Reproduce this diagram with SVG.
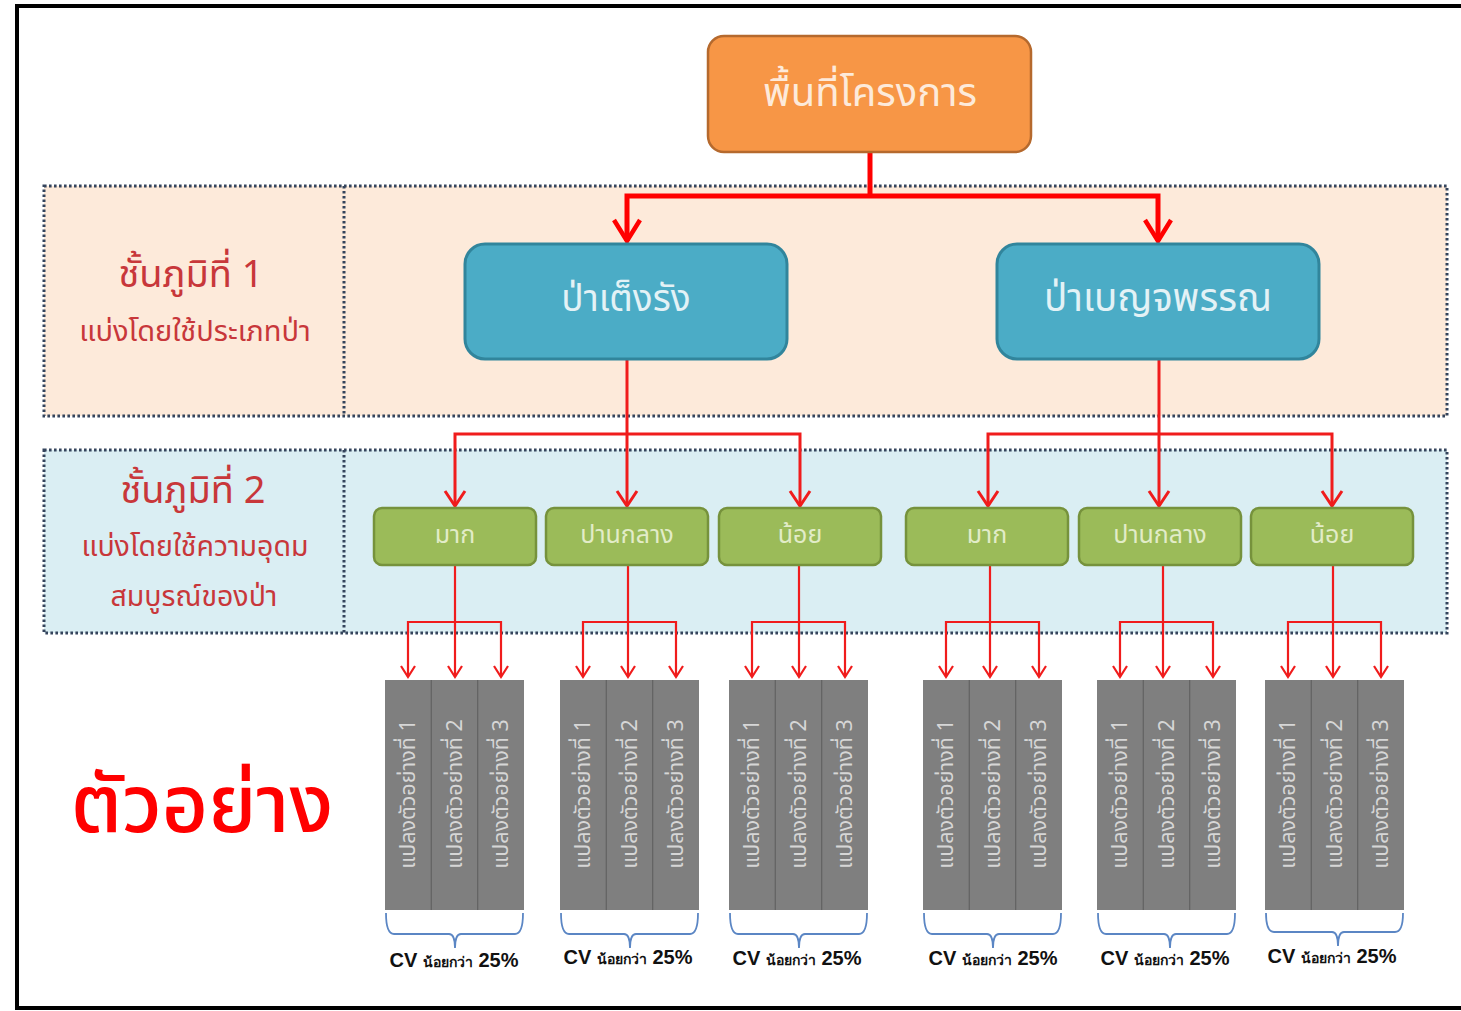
<svg xmlns="http://www.w3.org/2000/svg" width="1461" height="1011" viewBox="0 0 1461 1011">
<defs>
<style>
.th{font-family:"Noto Sans","Noto Sans Thai","Liberation Sans",sans-serif}
.band{stroke:#34445c;stroke-width:3;stroke-dasharray:2.6 2.4}
.div{stroke:#34445c;stroke-width:3;stroke-dasharray:2.6 2.4;fill:none}
.tier{fill:#c8373a;text-anchor:middle}
.orange{fill:#f79646;stroke:#b5692d;stroke-width:2.5}
.blue{fill:#4bacc6;stroke:#31859c;stroke-width:3}
.green{fill:#9bbb59;stroke:#76923c;stroke-width:2.5}
.bar{fill:#7f7f7f}
.bdiv{stroke:#626262;stroke-width:1.2}
.btxt{fill:#d6d6d6;font-size:21.5px;text-anchor:middle}
.c1{stroke:#ff0000;stroke-width:5;fill:none}
.c2{stroke:#f01c1c;stroke-width:3;fill:none}
.c3{stroke:#f01c1c;stroke-width:2.2;fill:none}
.brace{stroke:#5b86c4;stroke-width:1.8;fill:none}
.cv{font-family:"Liberation Sans","Noto Sans",sans-serif;font-weight:bold;font-size:20px;fill:#111;text-anchor:middle}
.cvs{font-size:14px}
</style>
<marker id="a1" viewBox="0 0 30 28" markerWidth="30" markerHeight="28" refX="25" refY="14" orient="auto-start-reverse" markerUnits="userSpaceOnUse" overflow="visible">
<path d="M4,1 L25,14 L4,27" fill="none" stroke="#ff0000" stroke-width="4.5"/>
</marker>
<marker id="a2" viewBox="0 0 22 22" markerWidth="22" markerHeight="22" refX="18" refY="11" orient="auto-start-reverse" markerUnits="userSpaceOnUse" overflow="visible">
<path d="M3,1 L18,11 L3,21" fill="none" stroke="#f01c1c" stroke-width="3"/>
</marker>
<marker id="a3" viewBox="0 0 16 16" markerWidth="16" markerHeight="16" refX="13" refY="8" orient="auto-start-reverse" markerUnits="userSpaceOnUse" overflow="visible">
<path d="M2,1 L13,8 L2,15" fill="none" stroke="#f01c1c" stroke-width="2.2"/>
</marker>
</defs>
<rect width="1461" height="1011" fill="#ffffff"/>
<rect x="17" y="6" width="1470" height="1002" fill="none" stroke="#000" stroke-width="4"/>

<g id="tier1">
<rect class="band" x="44" y="186" width="1403" height="230" fill="#fdeada"/>
<line class="div" x1="344" y1="186" x2="344" y2="416"/>
<text class="th tier" x="191" y="287" font-size="38">ชั้นภูมิที่ 1</text>
<text class="th tier" x="195" y="341" font-size="29">แบ่งโดยใช้ประเภทป่า</text>
</g>
<g id="tier2">
<rect class="band" x="44" y="450" width="1403" height="183" fill="#daeef3"/>
<line class="div" x1="344" y1="450" x2="344" y2="633"/>
<text class="th tier" x="193" y="503" font-size="38">ชั้นภูมิที่ 2</text>
<text class="th tier" x="195" y="556" font-size="28.5">แบ่งโดยใช้ความอุดม</text>
<text class="th tier" x="194" y="606" font-size="28.5">สมบูรณ์ของป่า</text>
</g>

<g id="connectors">
<path class="c1" d="M870,153 V196"/>
<path class="c1" d="M627,241 V196 H1158 V241" marker-start="url(#a1)" marker-end="url(#a1)"/>
<path class="c2" d="M455,506 V434 H800 V506" marker-start="url(#a2)" marker-end="url(#a2)"/>
<path class="c2" d="M627,359 V506" marker-end="url(#a2)"/>
<path class="c2" d="M988,506 V434 H1332 V506" marker-start="url(#a2)" marker-end="url(#a2)"/>
<path class="c2" d="M1159,359 V506" marker-end="url(#a2)"/>
<path class="c3" d="M408,677 V622 H501 V677" marker-start="url(#a3)" marker-end="url(#a3)"/>
<path class="c3" d="M455,566 V677" marker-end="url(#a3)"/>
<path class="c3" d="M583,677 V622 H676 V677" marker-start="url(#a3)" marker-end="url(#a3)"/>
<path class="c3" d="M628,566 V677" marker-end="url(#a3)"/>
<path class="c3" d="M752,677 V622 H845 V677" marker-start="url(#a3)" marker-end="url(#a3)"/>
<path class="c3" d="M799,566 V677" marker-end="url(#a3)"/>
<path class="c3" d="M946,677 V622 H1039 V677" marker-start="url(#a3)" marker-end="url(#a3)"/>
<path class="c3" d="M990,566 V677" marker-end="url(#a3)"/>
<path class="c3" d="M1120,677 V622 H1213 V677" marker-start="url(#a3)" marker-end="url(#a3)"/>
<path class="c3" d="M1163,566 V677" marker-end="url(#a3)"/>
<path class="c3" d="M1288,677 V622 H1381 V677" marker-start="url(#a3)" marker-end="url(#a3)"/>
<path class="c3" d="M1333,566 V677" marker-end="url(#a3)"/>
</g>

<g id="n-root">
<rect class="orange" x="708" y="36" width="323" height="116" rx="16"/>
<text class="th" x="870" y="106" font-size="40" fill="#fdeada" text-anchor="middle">พื้นที่โครงการ</text>
</g>
<g id="n-teng">
<rect class="blue" x="465" y="244" width="322" height="115" rx="20"/>
<text class="th" x="626" y="311" font-size="37" fill="#e3f2f6" text-anchor="middle">ป่าเต็งรัง</text>
</g>
<g id="n-benja">
<rect class="blue" x="997" y="244" width="322" height="115" rx="20"/>
<text class="th" x="1158" y="311" font-size="38.5" fill="#e3f2f6" text-anchor="middle">ป่าเบญจพรรณ</text>
</g>

<g id="n-g1"><rect class="green" x="374" y="508" width="162" height="57" rx="8"/><text class="th" x="455" y="543" font-size="25" fill="#e2ecc8" text-anchor="middle">มาก</text></g>
<g id="n-g2"><rect class="green" x="546" y="508" width="162" height="57" rx="8"/><text class="th" x="627" y="543" font-size="25" fill="#e2ecc8" text-anchor="middle">ปานกลาง</text></g>
<g id="n-g3"><rect class="green" x="719" y="508" width="162" height="57" rx="8"/><text class="th" x="800" y="543" font-size="25" fill="#e2ecc8" text-anchor="middle">น้อย</text></g>
<g id="n-g4"><rect class="green" x="906" y="508" width="162" height="57" rx="8"/><text class="th" x="987" y="543" font-size="25" fill="#e2ecc8" text-anchor="middle">มาก</text></g>
<g id="n-g5"><rect class="green" x="1079" y="508" width="162" height="57" rx="8"/><text class="th" x="1160" y="543" font-size="25" fill="#e2ecc8" text-anchor="middle">ปานกลาง</text></g>
<g id="n-g6"><rect class="green" x="1251" y="508" width="162" height="57" rx="8"/><text class="th" x="1332" y="543" font-size="25" fill="#e2ecc8" text-anchor="middle">น้อย</text></g>

<g id="plots1">
<rect class="bar" x="385" y="680" width="139" height="230"/>
<line class="bdiv" x1="431.3" y1="680" x2="431.3" y2="910"/><line class="bdiv" x1="477.7" y1="680" x2="477.7" y2="910"/>
<text class="th btxt" transform="translate(415,794) rotate(-90)">แปลงตัวอย่างที่ 1</text>
<text class="th btxt" transform="translate(461.5,794) rotate(-90)">แปลงตัวอย่างที่ 2</text>
<text class="th btxt" transform="translate(508,794) rotate(-90)">แปลงตัวอย่างที่ 3</text>
<path class="brace" d="M386,913 Q386,934 394,934 H449 Q455,934 455,948 Q455,934 461,934 H515 Q523,934 523,913"/>
<text class="cv" x="454" y="967">CV <tspan class="cvs">น้อยกว่า</tspan> 25%</text>
</g>
<g id="plots2">
<rect class="bar" x="560" y="680" width="139" height="230"/>
<line class="bdiv" x1="606.3" y1="680" x2="606.3" y2="910"/><line class="bdiv" x1="652.7" y1="680" x2="652.7" y2="910"/>
<text class="th btxt" transform="translate(590,794) rotate(-90)">แปลงตัวอย่างที่ 1</text>
<text class="th btxt" transform="translate(636.5,794) rotate(-90)">แปลงตัวอย่างที่ 2</text>
<text class="th btxt" transform="translate(683,794) rotate(-90)">แปลงตัวอย่างที่ 3</text>
<path class="brace" d="M561,913 Q561,934 569,934 H624 Q630,934 630,948 Q630,934 636,934 H690 Q698,934 698,913"/>
<text class="cv" x="628" y="964">CV <tspan class="cvs">น้อยกว่า</tspan> 25%</text>
</g>
<g id="plots3">
<rect class="bar" x="729" y="680" width="139" height="230"/>
<line class="bdiv" x1="775.3" y1="680" x2="775.3" y2="910"/><line class="bdiv" x1="821.7" y1="680" x2="821.7" y2="910"/>
<text class="th btxt" transform="translate(759,794) rotate(-90)">แปลงตัวอย่างที่ 1</text>
<text class="th btxt" transform="translate(805.5,794) rotate(-90)">แปลงตัวอย่างที่ 2</text>
<text class="th btxt" transform="translate(852,794) rotate(-90)">แปลงตัวอย่างที่ 3</text>
<path class="brace" d="M730,913 Q730,934 738,934 H793 Q799,934 799,948 Q799,934 805,934 H859 Q867,934 867,913"/>
<text class="cv" x="797" y="965">CV <tspan class="cvs">น้อยกว่า</tspan> 25%</text>
</g>
<g id="plots4">
<rect class="bar" x="923" y="680" width="139" height="230"/>
<line class="bdiv" x1="969.3" y1="680" x2="969.3" y2="910"/><line class="bdiv" x1="1015.7" y1="680" x2="1015.7" y2="910"/>
<text class="th btxt" transform="translate(953,794) rotate(-90)">แปลงตัวอย่างที่ 1</text>
<text class="th btxt" transform="translate(999.5,794) rotate(-90)">แปลงตัวอย่างที่ 2</text>
<text class="th btxt" transform="translate(1046,794) rotate(-90)">แปลงตัวอย่างที่ 3</text>
<path class="brace" d="M924,913 Q924,934 932,934 H987 Q993,934 993,948 Q993,934 999,934 H1053 Q1061,934 1061,913"/>
<text class="cv" x="993" y="965">CV <tspan class="cvs">น้อยกว่า</tspan> 25%</text>
</g>
<g id="plots5">
<rect class="bar" x="1097" y="680" width="139" height="230"/>
<line class="bdiv" x1="1143.3" y1="680" x2="1143.3" y2="910"/><line class="bdiv" x1="1189.7" y1="680" x2="1189.7" y2="910"/>
<text class="th btxt" transform="translate(1127,794) rotate(-90)">แปลงตัวอย่างที่ 1</text>
<text class="th btxt" transform="translate(1173.5,794) rotate(-90)">แปลงตัวอย่างที่ 2</text>
<text class="th btxt" transform="translate(1220,794) rotate(-90)">แปลงตัวอย่างที่ 3</text>
<path class="brace" d="M1098,913 Q1098,934 1106,934 H1164 Q1170,934 1170,948 Q1170,934 1176,934 H1227 Q1235,934 1235,913"/>
<text class="cv" x="1165" y="965">CV <tspan class="cvs">น้อยกว่า</tspan> 25%</text>
</g>
<g id="plots6">
<rect class="bar" x="1265" y="680" width="139" height="230"/>
<line class="bdiv" x1="1311.3" y1="680" x2="1311.3" y2="910"/><line class="bdiv" x1="1357.7" y1="680" x2="1357.7" y2="910"/>
<text class="th btxt" transform="translate(1295,794) rotate(-90)">แปลงตัวอย่างที่ 1</text>
<text class="th btxt" transform="translate(1341.5,794) rotate(-90)">แปลงตัวอย่างที่ 2</text>
<text class="th btxt" transform="translate(1388,794) rotate(-90)">แปลงตัวอย่างที่ 3</text>
<path class="brace" d="M1266,913 Q1266,932 1274,932 H1332 Q1338,932 1338,946 Q1338,932 1344,932 H1395 Q1403,932 1403,913"/>
<text class="cv" x="1332" y="963">CV <tspan class="cvs">น้อยกว่า</tspan> 25%</text>
</g>

<text class="th" x="202" y="832" font-size="80" font-weight="500" fill="#ff0000" text-anchor="middle">ตัวอย่าง</text>
</svg>
